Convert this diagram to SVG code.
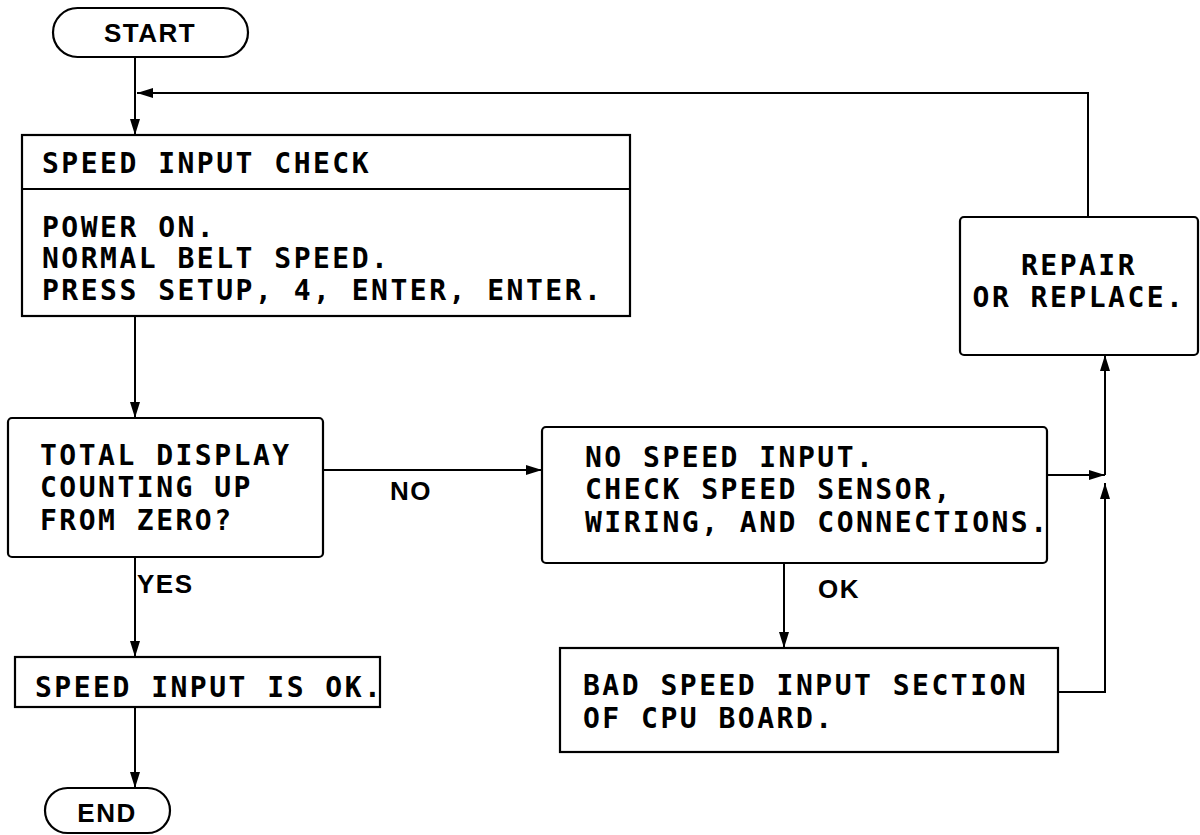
<svg xmlns="http://www.w3.org/2000/svg" width="1200" height="835" viewBox="0 0 1200 835">
<defs>
<marker id="arr" viewBox="0 0 16 10" refX="16" refY="5" markerWidth="16" markerHeight="10" markerUnits="userSpaceOnUse" orient="auto">
<path d="M0,0 L16,5 L0,10 z" fill="#000"/>
</marker>
<style>
.box{fill:#fff;stroke:#000;stroke-width:2.2}
.ln{fill:none;stroke:#000;stroke-width:2}
.t{font-family:"DejaVu Sans Mono","Liberation Mono",monospace;font-size:28px;font-weight:bold;letter-spacing:2.5px;fill:#000}
.lb{font-family:"Liberation Sans",Arial,sans-serif;font-size:26px;font-weight:bold;letter-spacing:1.5px;fill:#000}
</style>
</defs>
<rect width="1200" height="835" fill="#fff"/>
<g id="connectors">
<line class="ln" x1="135" y1="57" x2="135" y2="135" marker-end="url(#arr)"/>
<polyline class="ln" points="1088,217 1088,93 137,93" marker-end="url(#arr)"/>
<line class="ln" x1="135" y1="316" x2="135" y2="418" marker-end="url(#arr)"/>
<line class="ln" x1="323" y1="470" x2="542" y2="470" marker-end="url(#arr)"/>
<line class="ln" x1="135" y1="557" x2="135" y2="657" marker-end="url(#arr)"/>
<line class="ln" x1="135" y1="707" x2="135" y2="788" marker-end="url(#arr)"/>
<line class="ln" x1="784" y1="563" x2="784" y2="648" marker-end="url(#arr)"/>
<line class="ln" x1="1047" y1="475" x2="1105" y2="475" marker-end="url(#arr)"/>
<polyline class="ln" points="1058,692 1105,692 1105,483" marker-end="url(#arr)"/>
<line class="ln" x1="1105" y1="475" x2="1105" y2="355" marker-end="url(#arr)"/>
<text class="lb" x="390" y="500">NO</text>
<text class="lb" x="137" y="593">YES</text>
<text class="lb" x="818" y="598">OK</text>
</g>
<g id="start">
<rect class="box" x="53" y="8" width="195" height="49" rx="24.5"/>
<text class="lb" x="150" y="42" text-anchor="middle">START</text>
</g>
<g id="speed-input-check">
<rect class="box" x="22" y="135" width="608" height="181"/>
<line class="ln" x1="22" y1="189" x2="630" y2="189"/>
<text class="t" x="42" y="173">SPEED INPUT CHECK</text>
<text class="t" x="42" y="237">POWER ON.</text>
<text class="t" x="42" y="268">NORMAL BELT SPEED.</text>
<text class="t" x="42" y="300">PRESS SETUP, 4, ENTER, ENTER.</text>
</g>
<g id="decision">
<rect class="box" x="8" y="418" width="315" height="139" rx="4"/>
<text class="t" x="40" y="465">TOTAL DISPLAY</text>
<text class="t" x="40" y="497">COUNTING UP</text>
<text class="t" x="40" y="530">FROM ZERO?</text>
</g>
<g id="speed-ok">
<rect class="box" x="15" y="657" width="365" height="50"/>
<text class="t" x="35" y="697">SPEED INPUT IS OK.</text>
</g>
<g id="end">
<rect class="box" x="45" y="788" width="125" height="45" rx="22.5"/>
<text class="lb" x="107" y="822" text-anchor="middle">END</text>
</g>
<g id="no-speed">
<rect class="box" x="542" y="427" width="505" height="136" rx="4"/>
<text class="t" x="585" y="467">NO SPEED INPUT.</text>
<text class="t" x="585" y="499">CHECK SPEED SENSOR,</text>
<text class="t" x="585" y="532">WIRING, AND CONNECTIONS.</text>
</g>
<g id="bad-cpu">
<rect class="box" x="560" y="648" width="498" height="104"/>
<text class="t" x="583" y="695">BAD SPEED INPUT SECTION</text>
<text class="t" x="583" y="728">OF CPU BOARD.</text>
</g>
<g id="repair">
<rect class="box" x="960" y="217" width="238" height="138" rx="4"/>
<text class="t" x="1079" y="275" text-anchor="middle">REPAIR</text>
<text class="t" x="1079" y="307" text-anchor="middle">OR REPLACE.</text>
</g>
</svg>
